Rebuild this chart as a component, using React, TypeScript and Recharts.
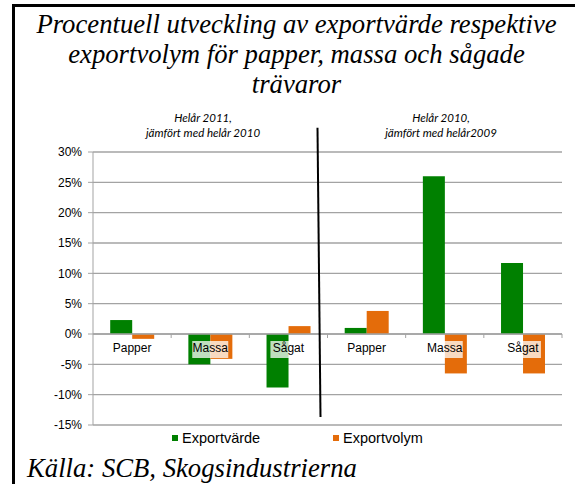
import { BarChart, Bar, XAxis, YAxis, CartesianGrid, ReferenceLine } from 'recharts'

const categories = ['Papper', 'Massa', 'Sågat']
const periods = ['2011', '2010']
const exportvarde2011 = [2.3, -5.0, -8.8]
const exportvolym2011 = [-0.8, -4.1, 1.3]
const exportvarde2010 = [1.0, 26.0, 11.7]
const exportvolym2010 = [3.8, -6.5, -6.5]
const yTicks = [-15, -10, -5, 0, 5, 10, 15, 20, 25, 30]
const seriesNames = ['Exportvärde', 'Exportvolym']
const seriesColors = ['#008000', '#E46C0A']
const subtitles = [
  ['Helår 2011,', 'jämfört med helår 2010'],
  ['Helår 2010,', 'jämfört med helår2009'],
]
const titleLines = [
  'Procentuell utveckling av exportvärde respektive',
  'exportvolym för papper, massa och sågade',
  'trävaror',
]
const source = 'Källa: SCB, Skogsindustrierna'

const values = [
  [exportvarde2011, exportvolym2011],
  [exportvarde2010, exportvolym2010],
]

const data = periods.flatMap((p, pi) =>
  categories.map((c, ci) => ({
    key: `${p}-${c}`,
    varde: values[pi][0][ci],
    volym: values[pi][1][ci],
  }))
)

const W = 575
const H = 484
const Y_AXIS_W = 60
const X_AXIS_H = 20
const M = { top: 152, right: 13, bottom: 59 - X_AXIS_H, left: 93 - Y_AXIS_W }
const Y_MIN = -15
const Y_MAX = 30
const PLOT_H = H - M.top - M.bottom - X_AXIS_H
const zeroY = M.top + (PLOT_H * Y_MAX) / (Y_MAX - Y_MIN)
const GRID = '#a3a3a3'
const SANS = '"Liberation Sans", Arial, sans-serif'
const SERIF = '"Liberation Serif", serif'

function CategoryTick(props: any) {
  const { x, payload } = props
  const label = String(payload.value).split('-')[1]
  const half = payload.offset ?? (W - 93 - M.right) / data.length / 2
  const w = label.length * 6.8 + 2
  return (
    <g>
      <line x1={x + half} x2={x + half} y1={zeroY} y2={zeroY + 4} stroke={GRID} />
      <rect x={x - w / 2} y={zeroY + 7} width={w} height={17} fill="#fff" fillOpacity={0.75} />
      <text x={x} y={zeroY + 18} textAnchor="middle" fontSize={12} fontFamily={SANS} fill="#000">
        {label}
      </text>
    </g>
  )
}

function Separator(props: any) {
  const { x1, y1, x2, y2 } = props
  return <line x1={x1 - 10} y1={y1} x2={x2 - 7} y2={y2} stroke="#000" strokeWidth={2} />
}

export default function App() {
  return (
    <div style={{ position: 'absolute', left: 0, top: 0, width: W, height: H, background: '#fff' }}>
      <div
        style={{
          position: 'absolute',
          left: 12,
          top: 4,
          width: W - 12,
          height: H - 4,
          borderTop: '3px solid #000',
          borderLeft: '3px solid #000',
          boxSizing: 'border-box',
        }}
      />
      <BarChart
        width={W}
        height={H}
        data={data}
        margin={M}
        barCategoryGap="22%"
        barGap={0}
        style={{ position: 'absolute', left: 0, top: 0 }}
      >
        <CartesianGrid vertical={false} stroke={GRID} strokeWidth={1.3} />
        <YAxis
          width={Y_AXIS_W}
          domain={[Y_MIN, Y_MAX]}
          ticks={yTicks}
          interval={0}
          tickFormatter={(v: number) => `${v}%`}
          tick={{ fontSize: 12, fill: '#000', fontFamily: SANS }}
          stroke={GRID}
          tickSize={5}
          tickMargin={6}
        />
        <Bar dataKey="varde" name={seriesNames[0]} fill={seriesColors[0]} isAnimationActive={false} />
        <Bar dataKey="volym" name={seriesNames[1]} fill={seriesColors[1]} isAnimationActive={false} />
        <ReferenceLine y={0} stroke={GRID} strokeWidth={1.3} />
        <XAxis
          dataKey="key"
          height={X_AXIS_H}
          interval={0}
          axisLine={false}
          tickLine={false}
          tick={<CategoryTick />}
        />
        <ReferenceLine
          segment={[
            { x: data[3].key, y: 34 },
            { x: data[3].key, y: -13.7 },
          ]}
          position="start"
          ifOverflow="visible"
          shape={<Separator />}
        />
      </BarChart>
      <div
        style={{
          position: 'absolute',
          left: 18,
          width: W - 18,
          top: 9,
          textAlign: 'center',
          fontFamily: SERIF,
          fontStyle: 'italic',
          fontSize: 26.7,
          lineHeight: '30px',
          color: '#000',
        }}
      >
        {titleLines.map((t) => (
          <div key={t}>{t}</div>
        ))}
      </div>
      {subtitles.map((lines, i) => (
        <div
          key={i}
          style={{
            position: 'absolute',
            left: (i === 0 ? 203 : 441) - 100,
            width: 200,
            top: 110,
            textAlign: 'center',
            fontFamily: 'Lato, "Open Sans", sans-serif',
            fontStyle: 'italic',
            fontSize: 11.5,
            lineHeight: '15px',
            color: '#000',
          }}
        >
          {lines.map((l) => (
            <div key={l}>{l}</div>
          ))}
        </div>
      ))}
      <div style={{ position: 'absolute', left: 172, top: 429, display: 'flex', fontFamily: SANS, fontSize: 14.5 }}>
        {seriesNames.map((n, i) => (
          <div key={n} style={{ width: 161, display: 'flex', alignItems: 'center', lineHeight: '18px' }}>
            <span style={{ width: 6, height: 6, background: seriesColors[i], marginRight: 4, display: 'inline-block' }} />
            <span>{n}</span>
          </div>
        ))}
      </div>
      <div
        style={{
          position: 'absolute',
          left: 27,
          top: 453,
          fontFamily: SERIF,
          fontStyle: 'italic',
          fontSize: 26.7,
          lineHeight: '30px',
          color: '#000',
          whiteSpace: 'nowrap',
        }}
      >
        {source}
      </div>
    </div>
  )
}
